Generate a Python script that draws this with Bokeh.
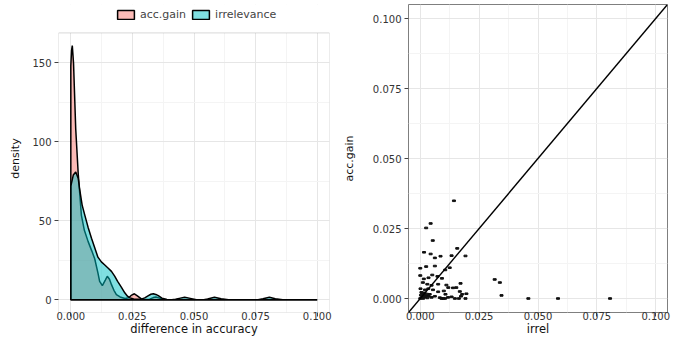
from bokeh.plotting import figure
from bokeh.layouts import row
from bokeh.models import (Range1d, FixedTicker, NumeralTickFormatter, Legend,
                          LegendItem, Slope, ColumnDataSource, BoxAnnotation)
from bokeh.embed import file_html
from bokeh.resources import INLINE

# ---- data: density curves ----
dens_x_acc = [0, 0.0003, 0.0006, 0.0011, 0.002, 0.003, 0.0043, 0.0055, 0.007, 0.0085,
              0.0097, 0.011, 0.0117, 0.0128, 0.014, 0.0148, 0.0157, 0.0165, 0.0175,
              0.0185, 0.020, 0.022, 0.0235, 0.0247, 0.0258, 0.027, 0.0285, 0.030,
              0.032, 0.0335, 0.0345, 0.0357, 0.037, 0.039, 0.1]
dens_acc = [148, 158, 161, 150, 108, 80, 53.5, 44, 37, 31,
            26, 17, 11.7, 9, 12.5, 14.9, 13, 9.6, 6,
            3.3, 1.8, 0.8, 1.3, 3, 3.8, 2.5, 0.7, 0.2,
            0.4, 1.4, 1.8, 1.2, 0.4, 0.05, 0]

dens_x_irr = [0, 0.001, 0.002, 0.003, 0.0036, 0.0046, 0.0057, 0.007, 0.0084, 0.0097,
              0.011, 0.0124, 0.0138, 0.0152, 0.0165, 0.0178, 0.019, 0.0205, 0.0219,
              0.023, 0.024, 0.0255, 0.027, 0.0285, 0.030, 0.0315, 0.0325, 0.0335,
              0.0345, 0.0355, 0.037, 0.039, 0.041, 0.0425, 0.044, 0.0462, 0.0485,
              0.051, 0.054, 0.0555, 0.0583, 0.061, 0.064, 0.076, 0.078, 0.0806,
              0.083, 0.086, 0.1]
dens_irr = [72, 79, 81, 77, 70, 60, 53.5, 46, 39, 33,
            27, 24, 22, 20, 18, 15, 11.7, 8, 4.4,
            2.3, 1.2, 0.5, 0.3, 0.4, 1.2, 2.6, 3.5, 3.8,
            3.4, 2.6, 1.0, 0.2, 0.1, 0.4, 0.9, 1.6, 0.9,
            0.1, 0.05, 0.5, 1.6, 0.6, 0.05, 0.05, 0.6, 1.6,
            0.6, 0.05, 0]

series_labels = ["acc.gain", "irrelevance"]

# ---- data: scatter (irrel vs acc.gain) ----
irrel = [0.0143, 0.0044, 0.0025, 0.0053, 0.0016, 0.0044, 0.0062, 0.0086, 0.0133, 0.0157,
         0.0192, 0.0000, 0.0025, 0.0062, 0.0106, 0.0125, 0.0000, 0.0015, 0.0035, 0.0051,
         0.0073, 0.0092, 0.0011, 0.0030, 0.0048, 0.0076, 0.0111, 0.0119, 0.0139, 0.0153,
         0.0171, 0.0001, 0.0020, 0.0034, 0.0054, 0.0076, 0.0100, 0.0107, 0.0168, 0.0178,
         0.0196, 0.0173, 0.0048, 0.0062, 0.0083, 0.0090, 0.0097, 0.0105, 0.0118, 0.0133,
         0.0147, 0.0164, 0.0192, 0.0316, 0.0338, 0.0345, 0.0459, 0.0585, 0.0806,
         0.0000, 0.0005, 0.0010, 0.0015, 0.0008, 0.0020, 0.0025, 0.0003, 0.0012, 0.0030,
         0.0018, 0.0005, 0.0028, 0.0035, 0.0040]
acc_gain = [0.0349, 0.0268, 0.0252, 0.0207, 0.0165, 0.0159, 0.0145, 0.0151, 0.0153, 0.0179,
            0.0152, 0.0108, 0.0114, 0.0116, 0.0102, 0.0110, 0.0082, 0.0070, 0.0074, 0.0084,
            0.0079, 0.0072, 0.0057, 0.0051, 0.0047, 0.0051, 0.0048, 0.0039, 0.0038, 0.0039,
            0.0054, 0.0035, 0.0031, 0.0035, 0.0031, 0.0024, 0.0027, 0.0015, 0.0025, 0.0015,
            0.0017, 0.0008, 0.0004, 0.0008, 0.0003, 0.0000, 0.0000, 0.0000, 0.0004, 0.0006,
            0.0000, 0.0000, 0.0000, 0.0068, 0.0057, 0.0011, 0.0000, 0.0000, 0.0000,
            0.0000, 0.0003, 0.0008, 0.0012, 0.0018, 0.0005, 0.0010, 0.0012, 0.0000, 0.0002,
            0.0020, 0.0022, 0.0016, 0.0008, 0.0015]

# ---- ticks / limits / titles ----
acc_ticks = [0, 0.025, 0.05, 0.075, 0.1]
acc_minor = [0.0125, 0.0375, 0.0625, 0.0875]
dens_ticks = [0, 50, 100, 150]
dens_minor = [25, 75, 125]
x_lim = (-0.005, 0.105)
dens_lim = (-8.05, 169.05)
x_titles = ["difference in accuracy", "irrel"]
y_titles = ["density", "acc.gain"]

FONT = "DejaVu Sans"
H = 338
FRAME_TOP, FRAME_BOTTOM = 4, 315


def style(p, ylab_standoff):
    p.background_fill_color = "white"
    p.border_fill_color = "white"
    for ax in p.axis:
        ax.axis_line_color = None
        ax.major_tick_line_color = "#444444"
        ax.major_tick_out = 4
        ax.major_tick_in = 0
        ax.minor_tick_line_color = None
        ax.major_label_text_font = FONT
        ax.major_label_text_font_size = "10px"
        ax.major_label_text_color = "#333333"
        ax.axis_label_text_font = FONT
        ax.axis_label_text_font_style = "normal"
        ax.axis_label_text_color = "#111111"
    p.xaxis.major_label_standoff = -5
    p.xaxis.axis_label_standoff = -1
    p.xaxis.axis_label_text_font_size = "11.5px"
    p.yaxis.major_label_standoff = 3
    p.yaxis.axis_label_standoff = ylab_standoff
    p.yaxis.axis_label_text_font_size = "11px"
    for g in (p.xgrid, p.ygrid):
        g.grid_line_color = "#E6E6E6"
        g.grid_line_width = 1
        g.minor_grid_line_color = "#F4F4F4"
        g.minor_grid_line_width = 1


# ---- left: density plot ----
frame_h = FRAME_BOTTOM - FRAME_TOP
dens_per_px = (dens_lim[1] - dens_lim[0]) / (FRAME_BOTTOM - 32.7)
dens_top = dens_lim[0] + frame_h * dens_per_px
p1 = figure(width=338, height=H, output_backend="svg", toolbar_location=None,
            x_range=Range1d(*x_lim), y_range=Range1d(dens_lim[0], dens_top),
            min_border_left=58, min_border_right=9, min_border_top=FRAME_TOP,
            min_border_bottom=H - FRAME_BOTTOM, x_axis_label=x_titles[0],
            y_axis_label=y_titles[0])
p1.xaxis.ticker = FixedTicker(ticks=acc_ticks, minor_ticks=acc_minor)
p1.xaxis.formatter = NumeralTickFormatter(format="0.000")
p1.yaxis.ticker = FixedTicker(ticks=dens_ticks, minor_ticks=dens_minor)
p1.yaxis.bounds = dens_lim
style(p1, 7)
p1.outline_line_color = None

# white cover above the panel (panel area stops at the top of the y limits)
p1.add_layout(BoxAnnotation(bottom=dens_lim[1], fill_color="white", fill_alpha=1,
                            line_color=None, level="underlay"))
# panel border
p1.add_layout(BoxAnnotation(bottom=dens_lim[0], top=dens_lim[1], left=x_lim[0],
                            right=x_lim[1], fill_alpha=0, line_color="#7F7F7F",
                            line_width=1, level="overlay"))

src_acc = ColumnDataSource(dict(x=[0] + dens_x_acc, y=[0] + dens_acc))
src_irr = ColumnDataSource(dict(x=[0] + dens_x_irr, y=[0] + dens_irr))
r1 = p1.patch("x", "y", source=src_acc, fill_color="#F8766D", fill_alpha=0.5,
              line_color="black", line_width=1.5)
r2 = p1.patch("x", "y", source=src_irr, fill_color="#00BFC4", fill_alpha=0.5,
              line_color="black", line_width=1.5)

legend = Legend(items=[LegendItem(label=series_labels[0], renderers=[r1]),
                       LegendItem(label=series_labels[1], renderers=[r2])],
                orientation="horizontal", location=(57, FRAME_BOTTOM - 24),
                glyph_width=21, glyph_height=11, label_height=11,
                label_text_font=FONT, label_text_font_size="11px",
                label_standoff=4, spacing=4, padding=0, margin=0,
                border_line_color=None, background_fill_alpha=0)
p1.add_layout(legend)

# ---- right: scatter ----
p2 = figure(width=338, height=H, output_backend="svg", toolbar_location=None,
            x_range=Range1d(*x_lim), y_range=Range1d(*x_lim),
            min_border_left=70, min_border_right=9, min_border_top=FRAME_TOP,
            min_border_bottom=H - FRAME_BOTTOM, x_axis_label=x_titles[1],
            y_axis_label=y_titles[1])
p2.xaxis.ticker = FixedTicker(ticks=acc_ticks, minor_ticks=acc_minor)
p2.yaxis.ticker = FixedTicker(ticks=acc_ticks, minor_ticks=acc_minor)
p2.xaxis.formatter = NumeralTickFormatter(format="0.000")
p2.yaxis.formatter = NumeralTickFormatter(format="0.000")
style(p2, 14)
p2.outline_line_color = "#7F7F7F"

p2.rect(x=irrel, y=acc_gain, width=3, height=1.6, width_units="screen",
        height_units="screen", color="#111111")
p2.add_layout(Slope(gradient=1, y_intercept=0, line_color="black", line_width=1.4))

layout = row(p1, p2)
open("out.html", "w").write(file_html(layout, INLINE))
